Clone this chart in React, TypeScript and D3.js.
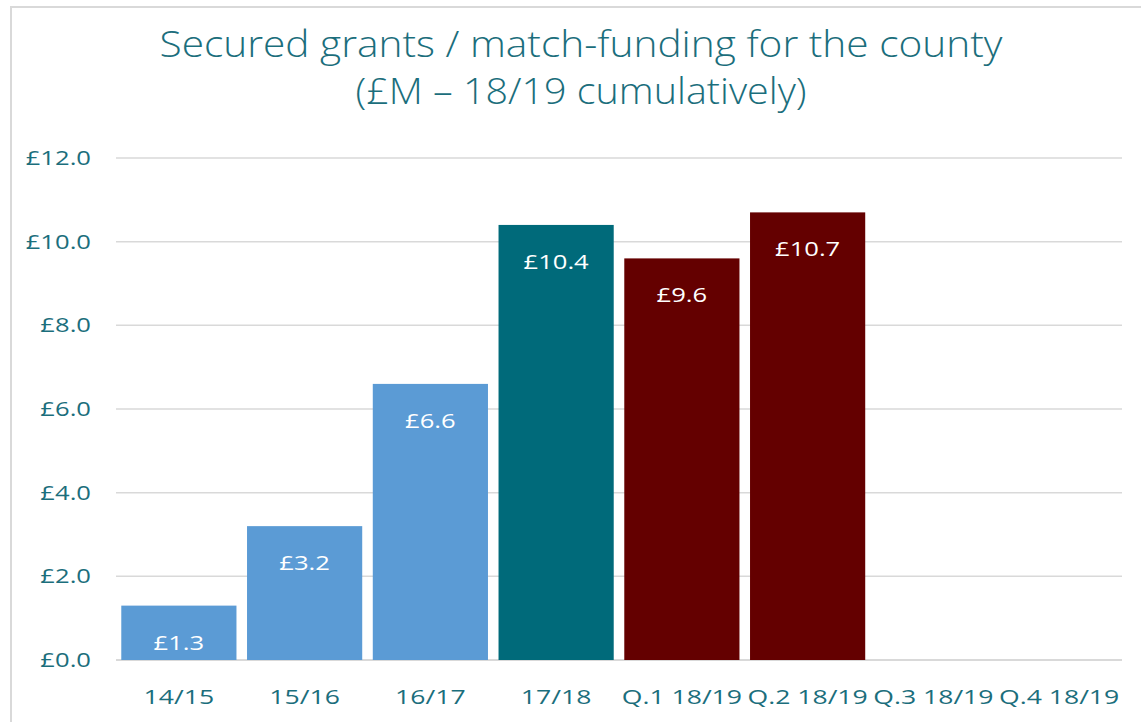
import React from "react";
import * as d3 from "d3";

const categories = ["14/15", "15/16", "16/17", "17/18", "Q.1 18/19", "Q.2 18/19", "Q.3 18/19", "Q.4 18/19"];
const values: (number | null)[] = [1.3, 3.2, 6.6, 10.4, 9.6, 10.7, null, null];
const barColors = ["#5b9bd5", "#5b9bd5", "#5b9bd5", "#006a7a", "#640000", "#640000", "#640000", "#640000"];
const yTicks = [0, 2, 4, 6, 8, 10, 12];
const titleLines = ["Secured grants / match-funding for the county", "(£M – 18/19 cumulatively)"];
const titleWidths = [843, 451];

const W = 1141;
const H = 722;
const FONT = "'Open Sans', 'DejaVu Sans', sans-serif";
const TEXT = "#1b6e7c";
const SX = 1.28;

export default function App() {
  const margin = { left: 116, right: 19, top: 158, bottom: 62 };
  const x = d3.scaleBand<string>().domain(categories).range([margin.left, W - margin.right]).paddingInner(0.084).paddingOuter(0.042);
  const y = d3.scaleLinear().domain([0, 12]).range([H - margin.bottom, margin.top]);
  const fmt = (v: number) => "£" + d3.format(".1f")(v);
  return (
    <svg width={W} height={H} style={{ position: "absolute", left: 0, top: 0, background: "#fff" }}>
      <rect x={11} y={7} width={W + 20} height={H + 20} fill="#fff" stroke="#d9d9d9" strokeWidth={2} />
      {titleLines.map((t, i) => (
        <text key={i} x={581 - titleWidths[i] / 2} y={57 + i * 47} fontFamily={FONT} fontSize={37} fontWeight={300}
          textLength={titleWidths[i]} lengthAdjust="spacingAndGlyphs" fill={TEXT}>
          {t}
        </text>
      ))}
      {yTicks.map((t) => (
        <g key={t}>
          <line x1={margin.left} x2={W - margin.right} y1={y(t)} y2={y(t)} stroke="#d9d9d9" strokeWidth={t === 0 ? 2 : 1.5} />
          <text transform={`translate(91,${y(t)}) scale(${SX},1)`} dy="0.35em" textAnchor="end" fontFamily={FONT} fontSize={20} fill={TEXT}>
            {fmt(t)}
          </text>
        </g>
      ))}
      {categories.map((c, i) => {
        const v = values[i];
        const bx = x(c)!;
        const cx = bx + x.bandwidth() / 2;
        return (
          <g key={c}>
            {v != null && (
              <>
                <rect x={bx} y={y(v)} width={x.bandwidth()} height={y(0) - y(v)} fill={barColors[i]} />
                <text transform={`translate(${cx},${y(v) + 37}) scale(${SX},1)`} dy="0.35em" textAnchor="middle" fontFamily={FONT} fontSize={20} fill="#fff">
                  {fmt(v)}
                </text>
              </>
            )}
            <text transform={`translate(${cx},697) scale(1.33,1)`} dy="0.35em" textAnchor="middle" fontFamily={FONT} fontSize={20} fill={TEXT}>
              {c}
            </text>
          </g>
        );
      })}
    </svg>
  );
}
